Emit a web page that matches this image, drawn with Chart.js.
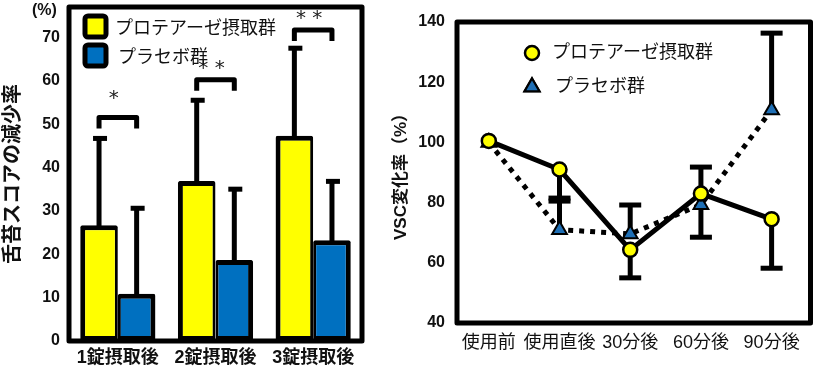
<!DOCTYPE html>
<html>
<head>
<meta charset="utf-8">
<script src="https://cdn.jsdelivr.net/npm/chart.js@4.4.0/dist/chart.umd.min.js"></script>
<style>
  html, body { margin:0; padding:0; background:#fff; }
  #c1 { position:absolute; left:0; top:0; }
  #c2 { position:absolute; left:380px; top:0; }
</style>
</head>
<body>
<canvas id="c1" width="370" height="369"></canvas>
<canvas id="c2" width="441" height="369"></canvas>
<script>
const FONT = "'Liberation Sans', 'Noto Sans CJK JP', sans-serif";

// left: tongue coating score reduction
const doseLabels = ['1錠摂取後', '2錠摂取後', '3錠摂取後'];
const proteaseDrop = [26.7, 36.9, 47.3];
const proteaseDropSD = [20.0, 18.6, 20.2];
const placeboDrop = [10.9, 18.7, 23.2];
const placeboDropSD = [19.7, 16.3, 13.6];
const sigLevel = [51.5, 60.2, 71.7];
const sigMark = ['*', '* *', '* *'];
const dropTicks = [0, 10, 20, 30, 40, 50, 60, 70];

// right: VSC change
const timeLabels = ['使用前', '使用直後', '30分後', '60分後', '90分後'];
const proteaseVSC = [100.5, 91, 64.3, 83, 74.5];
const proteaseUp = [0, 0, 0, 8.8, 0];
const proteaseDown = [0, 10.5, 9.3, 0, 16.3];
const placeboVSC = [100, 71, 69.6, 79.3, 110.8];
const placeboUp = [0, 10.5, 9.6, 0, 25.5];
const placeboDown = [0, 0, 0, 10.8, 0];
const vscTicks = [40, 60, 80, 100, 120, 140];

const YELLOW = '#ffff00';
const BLUE = '#0070c0';

const noPad = (s) => { s.paddingTop = 0; s.paddingBottom = 0; s.paddingLeft = 0; s.paddingRight = 0; };

const frame = {
  id: 'frame',
  afterDraw(chart) {
    const a = chart.chartArea, ctx = chart.ctx;
    ctx.save();
    ctx.strokeStyle = '#000';
    ctx.lineWidth = 5;
    ctx.lineJoin = 'round';
    ctx.strokeRect(a.left, a.top, a.right - a.left, a.bottom - a.top);
    ctx.restore();
  }
};

// error bars + brackets for the bar chart
const barExtras = {
  id: 'barExtras',
  beforeDatasetsDraw(chart) {
    const ctx = chart.ctx, y = chart.scales.y;
    const sds = [proteaseDropSD, placeboDropSD];
    ctx.save();
    ctx.strokeStyle = '#000';
    ctx.lineWidth = 5;
    sds.forEach((sd, i) => {
      const ds = chart.data.datasets[i];
      chart.getDatasetMeta(i).data.forEach((el, j) => {
        const top = y.getPixelForValue(ds.data[j] + sd[j]);
        ctx.beginPath();
        ctx.moveTo(el.x, el.y + 3);
        ctx.lineTo(el.x, top);
        ctx.stroke();
        ctx.beginPath();
        ctx.moveTo(el.x - 6, top);
        ctx.lineTo(el.x + 8, top);
        ctx.stroke();
      });
    });
    ctx.restore();
  },
  afterDatasetsDraw(chart) {
    const ctx = chart.ctx, y = chart.scales.y;
    const m0 = chart.getDatasetMeta(0).data, m1 = chart.getDatasetMeta(1).data;
    ctx.save();
    ctx.strokeStyle = '#000';
    ctx.lineWidth = 5;
    ctx.lineJoin = 'round';
    ctx.fillStyle = '#222';
    ctx.font = "20px 'DejaVu Sans'";
    ctx.textAlign = 'center';
    ctx.textBaseline = 'middle';
    sigLevel.forEach((v, j) => {
      const x1 = m0[j].x, x2 = m1[j].x, yb = y.getPixelForValue(v);
      ctx.beginPath();
      ctx.moveTo(x1, yb + 11);
      ctx.lineTo(x1, yb);
      ctx.lineTo(x2, yb);
      ctx.lineTo(x2, yb + 11);
      ctx.stroke();
      ctx.fillText(sigMark[j], (x1 + x2) / 2 - 4, yb - (j === 0 ? 19 : 11));
    });
    // legend
    ctx.font = '18px ' + FONT;
    ctx.textAlign = 'left';
    chart.data.datasets.forEach((ds, i) => {
      const top = 16 + i * 29;
      ctx.beginPath();
      ctx.roundRect(85, top, 21, 21, 3);
      ctx.fillStyle = ds.backgroundColor;
      ctx.fill();
      ctx.stroke();
      ctx.fillStyle = '#111';
      ctx.fillText(ds.label, 115 + i * 3, top + 13);
    });
    ctx.font = 'bold 16px ' + FONT;
    ctx.fillText('(%)', 32, 11);
    ctx.restore();
  }
};

new Chart(document.getElementById('c1'), {
  type: 'bar',
  data: {
    labels: doseLabels,
    datasets: [
      { label: 'プロテアーゼ摂取群', data: proteaseDrop, backgroundColor: YELLOW, borderColor: '#000',
        borderWidth: { left: 5, top: 5, bottom: 5, right: 3 }, borderSkipped: false, borderRadius: 2 },
      { label: 'プラセボ群', data: placeboDrop, backgroundColor: BLUE, borderColor: '#000',
        borderWidth: { left: 3, top: 5, bottom: 5, right: 5 }, borderSkipped: false, borderRadius: 2 }
    ]
  },
  options: {
    responsive: false,
    animation: false,
    categoryPercentage: 0.77,
    barPercentage: 1,
    layout: { padding: { left: 0, top: 7, right: 8, bottom: 0 } },
    plugins: { legend: { display: false }, tooltip: { enabled: false } },
    scales: {
      x: {
        grid: { display: false, drawTicks: false }, border: { display: false },
        ticks: { color: '#111', padding: 6, font: { family: FONT, size: 18, weight: 'bold' }, maxRotation: 0, autoSkip: false },
        afterFit: (s) => { s.height = 28; noPad(s); }
      },
      y: {
        min: 0, max: 77,
        grid: { display: false, drawTicks: false }, border: { display: false },
        ticks: { color: '#111', padding: 9, font: { family: FONT, size: 16, weight: 'bold' } },
        afterBuildTicks: (s) => { s.ticks = dropTicks.map(v => ({ value: v })); },
        title: { display: true, text: '舌苔スコアの減少率', color: '#111', padding: { top: 1, bottom: 0 },
                 font: { family: FONT, size: 20, weight: 'bold' } },
        afterFit: (s) => { s.width = 69; noPad(s); }
      }
    }
  },
  plugins: [barExtras, frame]
});

// error bars + legend for the line chart
const lineExtras = {
  id: 'lineExtras',
  beforeDatasetsDraw(chart) {
    const ctx = chart.ctx, x = chart.scales.x, y = chart.scales.y;
    const sets = [[proteaseVSC, proteaseUp, proteaseDown], [placeboVSC, placeboUp, placeboDown]];
    ctx.save();
    ctx.strokeStyle = '#000';
    ctx.lineWidth = 5;
    sets.forEach(([vals, up, down]) => {
      vals.forEach((v, i) => {
        const px = x.getPixelForValue(i);
        [up[i], -down[i]].forEach(e => {
          if (!e) return;
          const py = y.getPixelForValue(v + e);
          ctx.beginPath();
          ctx.moveTo(px, y.getPixelForValue(v));
          ctx.lineTo(px, py);
          ctx.stroke();
          ctx.beginPath();
          ctx.moveTo(px - 11, py);
          ctx.lineTo(px + 11, py);
          ctx.stroke();
        });
      });
    });
    ctx.restore();
  },
  afterDraw(chart) {
    const ctx = chart.ctx;
    ctx.save();
    ctx.font = '18px ' + FONT;
    ctx.textBaseline = 'middle';
    chart.data.datasets.forEach((ds, i) => {
      const cy = 53 + i * 34;
      Chart.helpers.drawPoint(ctx, {
        pointStyle: ds.pointStyle, radius: ds.pointRadius, borderWidth: ds.pointBorderWidth, rotation: 0
      }, 152, cy);
      ctx.fillStyle = ds.pointBackgroundColor;
      ctx.strokeStyle = '#000';
      ctx.lineWidth = ds.pointBorderWidth;
      ctx.fill();
      ctx.stroke();
      ctx.fillStyle = '#111';
      ctx.fillText(ds.label, 172 + i * 3, cy);
    });
    ctx.restore();
  }
};

new Chart(document.getElementById('c2'), {
  type: 'line',
  data: {
    datasets: [
      { label: 'プロテアーゼ摂取群', data: proteaseVSC.map((v, i) => ({ x: i, y: v })),
        borderColor: '#000', borderWidth: 5, pointStyle: 'circle', pointRadius: 7, pointBorderWidth: 2.5,
        pointBackgroundColor: YELLOW, pointBorderColor: '#000' },
      { label: 'プラセボ群', data: placeboVSC.map((v, i) => ({ x: i, y: v })),
        borderColor: '#000', borderWidth: 5, borderDash: [5, 6], pointStyle: 'triangle', pointRadius: 8.5,
        pointBorderWidth: 2, pointBackgroundColor: '#1f6fb5', pointBorderColor: '#000' }
    ]
  },
  options: {
    responsive: false,
    animation: false,
    layout: { padding: { left: 0, top: 22, right: 4, bottom: 0 } },
    plugins: { legend: { display: false }, tooltip: { enabled: false } },
    scales: {
      x: {
        type: 'linear', min: -0.45, max: 4.55,
        grid: { display: false, drawTicks: false }, border: { display: false },
        afterBuildTicks: (s) => { s.ticks = timeLabels.map((_, i) => ({ value: i })); },
        ticks: { color: '#111', padding: 9, font: { family: FONT, size: 18 }, maxRotation: 0, autoSkip: false,
                 callback: (v) => timeLabels[v] },
        afterFit: (s) => { s.height = 46; noPad(s); }
      },
      y: {
        min: 40, max: 140,
        grid: { display: false, drawTicks: false }, border: { display: false },
        afterBuildTicks: (s) => { s.ticks = vscTicks.map(v => ({ value: v })); },
        ticks: { color: '#111', padding: 12, font: { family: FONT, size: 16, weight: 'bold' } },
        title: { display: true, text: 'VSC変化率（%）', color: '#111', padding: { top: 11, bottom: 0 },
                 font: { family: FONT, size: 17, weight: 'bold' } },
        afterFit: (s) => { s.width = 77; noPad(s); }
      }
    }
  },
  plugins: [lineExtras, frame]
});
</script>
</body>
</html>
